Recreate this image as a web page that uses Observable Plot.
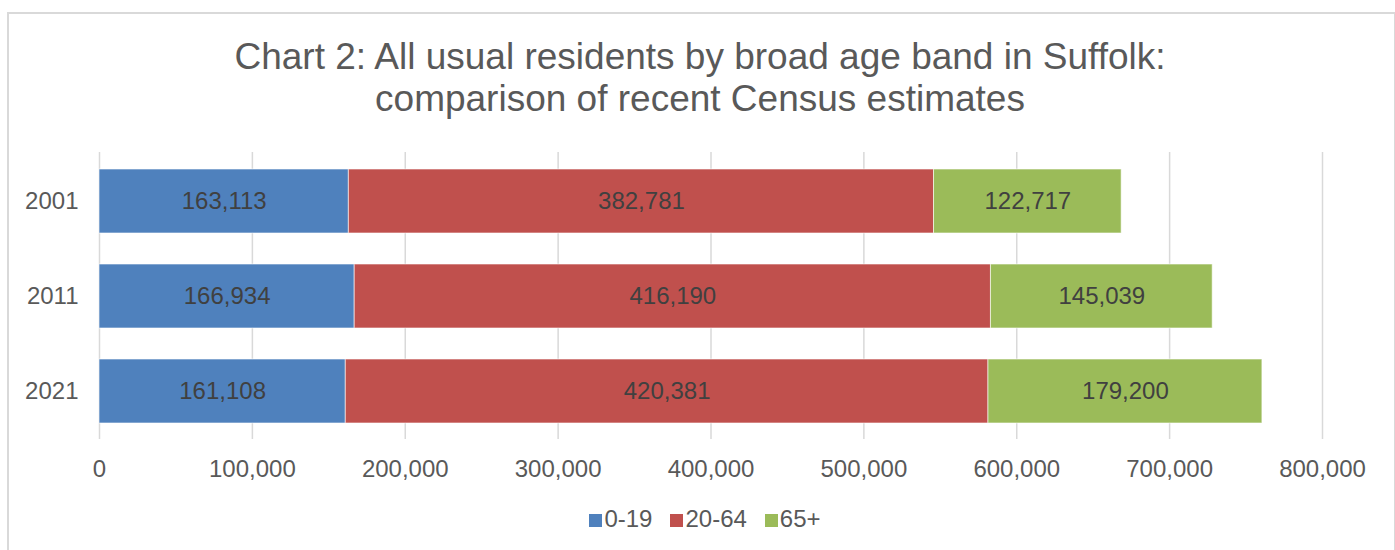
<!DOCTYPE html>
<html>
<head>
<meta charset="utf-8">
<script src="https://cdn.jsdelivr.net/npm/d3@7"></script>
<script src="https://cdn.jsdelivr.net/npm/@observablehq/plot@0.6"></script>
<style>
  html, body { margin: 0; padding: 0; background: #fff; }
  body { width: 1395px; height: 550px; position: relative; overflow: hidden; font-family: "Liberation Sans", Arial, sans-serif; }
  #frame { position: absolute; left: 7px; top: 12px; width: 1385px; height: 600px; border: 2px solid #d9d9d9; border-bottom: none; }
  #title { position: absolute; left: 0; top: 36px; width: 1400px; text-align: center; font-size: 37px; line-height: 42px; color: #595959; white-space: nowrap; }
  #chart { position: absolute; left: 0; top: 0; }
  #legend { position: absolute; left: 5px; top: 504px; width: 1400px; text-align: center; font-size: 24px; line-height: 30px; color: #595959; }
  .item { display: inline-block; margin: 0 9px; }
  .sw { display: inline-block; width: 13px; height: 13px; margin-right: 2px; vertical-align: 0px; }
</style>
</head>
<body>
<div id="frame"></div>
<div id="title">Chart 2: All usual residents by broad age band in Suffolk:<br>comparison of recent Census estimates</div>
<div id="chart"></div>
<div id="legend"></div>
<script>
const years = ["2001", "2011", "2021"];
const bands = ["0-19", "20-64", "65+"];
const colors = ["#4F81BD", "#C0504D", "#9BBB59"];
const age0to19 = [163113, 166934, 161108];
const age20to64 = [382781, 416190, 420381];
const age65plus = [122717, 145039, 179200];
const xTicks = [0, 100000, 200000, 300000, 400000, 500000, 600000, 700000, 800000];

const series = [age0to19, age20to64, age65plus];
const data = [];
years.forEach((y, i) => bands.forEach((b, j) => data.push({year: y, band: b, value: series[j][i]})));

const fmt = d3.format(",");

const plot = Plot.plot({
  width: 1395,
  height: 500,
  marginTop: 152,
  marginBottom: 61,
  marginLeft: 99,
  marginRight: 73,
  style: {fontFamily: "Liberation Sans, Arial, sans-serif", fontSize: "24px", color: "#595959", background: "transparent"},
  x: {domain: [0, 800000], ticks: xTicks, tickFormat: fmt, label: null},
  y: {domain: years, paddingInner: 0.33, paddingOuter: 0.165, label: null},
  color: {domain: bands, range: colors},
  marks: [
    Plot.gridX(xTicks, {stroke: "#d9d9d9", strokeOpacity: 1, strokeWidth: 1.5}),
    Plot.axisX({ticks: xTicks, tickFormat: fmt, tickSize: 0, tickPadding: 20, fontSize: 24, fill: "#595959", label: null}),
    Plot.axisY({tickSize: 0, tickPadding: 21, fontSize: 24, fill: "#595959", label: null}),
    Plot.barX(data, Plot.stackX({y: "year", x: "value", fill: "band", order: bands, stroke: "#ffffff", strokeOpacity: 0.6, strokeWidth: 1})),
    Plot.textX(data, Plot.stackX({y: "year", x: "value", z: "band", order: bands, text: d => fmt(d.value), fill: "#404040", fontSize: 24}))
  ]
});
document.getElementById("chart").appendChild(plot);

const legend = document.getElementById("legend");
bands.forEach((b, j) => {
  const s = document.createElement("span");
  s.className = "item";
  s.innerHTML = `<span class="sw" style="background:${colors[j]}"></span>${b}`;
  legend.appendChild(s);
});
</script>
</body>
</html>
